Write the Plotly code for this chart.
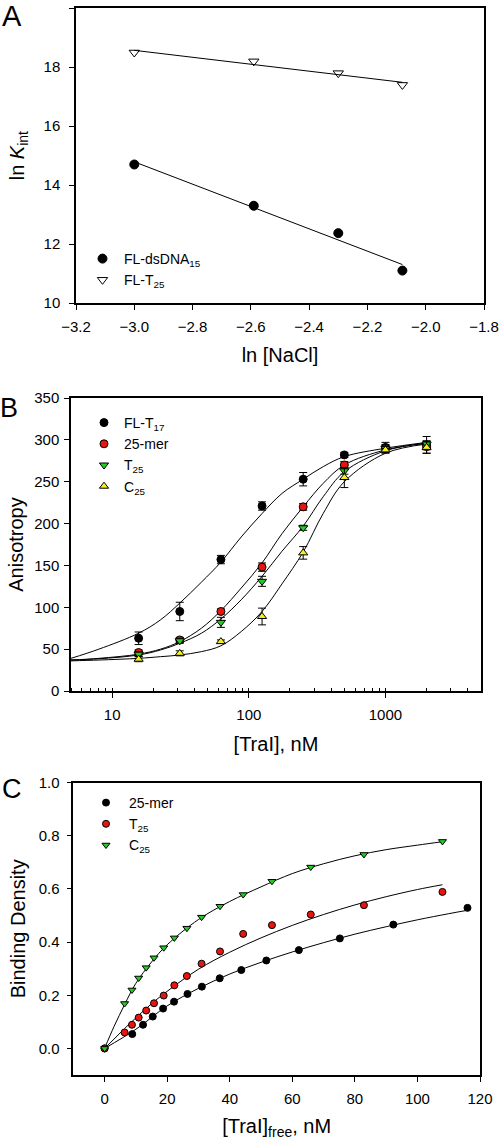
import numpy as np
import plotly.graph_objects as go

# ---------------- Panel A data ----------------
ln_nacl = [-3.0, -2.59, -2.30, -2.08]
lnk_dsdna15 = [14.7, 13.3, 12.37, 11.1]
lnk_t25 = [18.5, 18.2, 17.8, 17.4]

# ---------------- Panel B data ----------------
tral_nm = [15.625, 31.25, 62.5, 125, 250, 500, 1000, 2000]
aniso_flt17 = [63, 95, 157, 221, 253, 282, 291, 294]
err_flt17 = [7.5, 11, 5, 5, 8, 3, 6, 10]
aniso_25mer = [46, 61, 95, 148, 220, 270, 290, 292]
err_25mer = [3, 3, 3, 5, 4, 4, 4, 4]
aniso_t25 = [44, 60, 82, 131, 195, 263, 290, 295]
err_t25 = [3, 3, 6, 6, 3, 4, 4, 4]
aniso_c25 = [38, 45, 59, 89, 165, 255, 288, 291]
err_c25 = [3, 3, 2, 10, 7.5, 12, 4, 7]

# fitted curves
fit_b_x = [5, 8, 15.6, 22.6, 31.25, 45, 62.5, 88, 125, 175, 250, 350, 500, 1000, 2000]
fit_b_flt17 = [39, 50, 69, 85, 105, 130, 154, 184, 212, 236, 253, 268, 280, 290, 297]
fit_b_25mer = [37, 39, 44, 50, 59, 75, 96, 123, 153, 188, 220, 248, 270, 288, 296]
fit_b_t25 = [37, 38.5, 43, 49, 57, 69, 86, 109, 137, 167, 197, 232, 262, 287, 296]
fit_b_c25 = [36, 37, 39, 41, 43, 47, 54, 71, 95, 128, 166, 212, 250, 284, 295]

# ---------------- Panel C data ----------------
free_25mer = [0, 8.85, 12.3, 15.4, 18.7, 22.2, 26.5, 31.1, 36.8, 43.7, 51.7, 62.1, 75.2, 92.3, 116]
dens_25mer = [0, 0.054, 0.089, 0.12, 0.15, 0.176, 0.205, 0.2325, 0.264, 0.295, 0.331, 0.37, 0.414, 0.466, 0.529]
free_t25 = [0, 6.4, 8.75, 10.9, 13.3, 15.8, 18.9, 22.3, 26.3, 31.0, 36.9, 44.3, 53.5, 65.9, 82.9, 108]
dens_t25 = [0, 0.06, 0.089, 0.116, 0.1425, 0.17, 0.199, 0.2375, 0.2725, 0.319, 0.365, 0.431, 0.464, 0.504, 0.539, 0.589]
free_c25 = [0, 6.4, 8.75, 10.9, 13.3, 15.8, 18.9, 22.3, 26.3, 31.0, 36.9, 44.3, 53.5, 65.9, 82.9, 108]
dens_c25 = [0, 0.169, 0.22, 0.265, 0.304, 0.341, 0.379, 0.416, 0.4525, 0.494, 0.535, 0.579, 0.629, 0.6825, 0.73, 0.779]

fit_c_x_25mer = [0, 10, 20, 30, 40, 50, 60, 70, 80, 90, 100, 110, 116]
fit_c_25mer = [0, 0.072, 0.16, 0.226, 0.28, 0.324, 0.363, 0.398, 0.43, 0.458, 0.484, 0.507, 0.52]
fit_c_x = [0, 3, 6.4, 10, 15, 20, 30, 40, 50, 60, 70, 80, 90, 100, 108]
fit_c_t25 = [0, 0.035, 0.075, 0.115, 0.168, 0.215, 0.298, 0.362, 0.416, 0.463, 0.504, 0.54, 0.571, 0.598, 0.616]
fit_c_c25 = [0, 0.082, 0.165, 0.245, 0.325, 0.39, 0.485, 0.553, 0.608, 0.658, 0.695, 0.725, 0.748, 0.765, 0.778]

W, H = 500, 1140
FONT = "Arial, Liberation Sans, sans-serif"


def fx(p):
    return p / W


def fy(p):
    return 1 - p / H


fig = go.Figure()

# ---- Panel A ----
for yv, sym, name in [(lnk_dsdna15, "circle", "FL-dsDNA<sub>15</sub>"),
                      (lnk_t25, "triangle-down-open", "FL-T<sub>25</sub>")]:
    c = np.polyfit(ln_nacl, yv, 1)
    xs = np.array([min(ln_nacl), max(ln_nacl)])
    fig.add_trace(go.Scatter(x=xs, y=np.polyval(c, xs), mode="lines",
                             line=dict(color="black", width=1), showlegend=False,
                             xaxis="x", yaxis="y", hoverinfo="skip"))
    fig.add_trace(go.Scatter(x=ln_nacl, y=yv, mode="markers", name=name,
                             marker=dict(symbol=sym, size=9,
                                         color="black", line=dict(color="black", width=1)),
                             xaxis="x", yaxis="y", legend="legend"))

# ---- Panel B ----
b_sets = [
    (aniso_flt17, err_flt17, fit_b_flt17, "circle", "black", "FL-T<sub>17</sub>"),
    (aniso_25mer, err_25mer, fit_b_25mer, "circle", "#e8150f", "25-mer"),
    (aniso_t25, err_t25, fit_b_t25, "triangle-down", "#22cc22", "T<sub>25</sub>"),
    (aniso_c25, err_c25, fit_b_c25, "triangle-up", "#f5f01e", "C<sub>25</sub>"),
]
for yv, ev, fv, sym, col, name in b_sets:
    fig.add_trace(go.Scatter(x=fit_b_x, y=fv, mode="lines", line_shape="spline",
                             line=dict(color="black", width=1), showlegend=False,
                             xaxis="x2", yaxis="y2", hoverinfo="skip"))
for yv, ev, fv, sym, col, name in b_sets:
    fig.add_trace(go.Scatter(x=tral_nm, y=yv, mode="markers", name=name,
                             error_y=dict(type="data", array=ev, color="black",
                                          thickness=1, width=4),
                             marker=dict(symbol=sym, size=8, color=col,
                                         line=dict(color="black", width=1)),
                             xaxis="x2", yaxis="y2", legend="legend2"))

# ---- Panel C ----
for fxv, fv in [(fit_c_x_25mer, fit_c_25mer), (fit_c_x, fit_c_t25), (fit_c_x, fit_c_c25)]:
    fig.add_trace(go.Scatter(x=fxv, y=fv, mode="lines", line_shape="spline",
                             line=dict(color="black", width=1), showlegend=False,
                             xaxis="x3", yaxis="y3", hoverinfo="skip"))
for xv, yv, sym, col, name in [
    (free_25mer, dens_25mer, "circle", "black", "25-mer"),
    (free_t25, dens_t25, "circle", "#e8150f", "T<sub>25</sub>"),
    (free_c25, dens_c25, "triangle-down", "#22cc22", "C<sub>25</sub>"),
]:
    fig.add_trace(go.Scatter(x=xv, y=yv, mode="markers", name=name,
                             marker=dict(symbol=sym, size=7, color=col,
                                         line=dict(color="black", width=1)),
                             xaxis="x3", yaxis="y3", legend="legend3"))

axis_common = dict(showline=True, linecolor="black", linewidth=1.5, mirror=True,
                   ticks="outside", ticklen=5, tickwidth=1, tickcolor="black",
                   showgrid=False, zeroline=False, automargin=False,
                   tickfont=dict(family=FONT, size=15, color="black"),
                   title_font=dict(family=FONT, size=20, color="black"))

fig.update_layout(
    width=W, height=H, margin=dict(l=0, r=0, t=0, b=0, autoexpand=False),
    paper_bgcolor="white", plot_bgcolor="white",
    font=dict(family=FONT, color="black"),
    xaxis=dict(axis_common, domain=[fx(76), fx(484)], anchor="y", range=[-3.2, -1.8],
               dtick=0.2, tickformat=".1f", title=dict(text="ln [NaCl]", standoff=14),
               ticklabelstandoff=4),
    yaxis=dict(axis_common, domain=[fy(303), fy(8.3)], anchor="x", range=[10, 20],
               dtick=2, title=dict(text="ln <i>K</i><sub>int</sub>", standoff=14),
               ticklabelstandoff=6),
    xaxis2=dict(axis_common, domain=[fx(71), fx(481)], anchor="y2", type="log",
                range=[np.log10(5), np.log10(5000)], tickvals=[10, 100, 1000],
                ticktext=["10", "100", "1000"],
                minor=dict(ticks="inside", ticklen=3, tickcolor="black", dtick="D1",
                           showgrid=False),
                title=dict(text="[TraI], nM", standoff=15), ticklabelstandoff=4),
    yaxis2=dict(axis_common, domain=[fy(691), fy(398)], anchor="x2", range=[0, 350],
                dtick=50, title=dict(text="Anisotropy", standoff=5),
                ticklabelstandoff=2),
    xaxis3=dict(axis_common, domain=[fx(73.3), fx(480)], anchor="y3", range=[-10, 120],
                tickvals=[0, 20, 40, 60, 80, 100, 120],
                title=dict(text="[TraI]<sub>free</sub>, nM", standoff=17),
                ticklabelstandoff=4),
    yaxis3=dict(axis_common, domain=[fy(1075), fy(782.7)], anchor="x3", range=[-0.1, 1.0],
                tickvals=[0, 0.2, 0.4, 0.6, 0.8, 1.0], tickformat=".1f",
                title=dict(text="Binding Density", standoff=8), ticklabelstandoff=4),
    legend=dict(x=fx(81), y=fy(243), xanchor="left", yanchor="top",
                bgcolor="rgba(0,0,0,0)", font=dict(family=FONT, size=14),
                tracegroupgap=0, itemwidth=33),
    legend2=dict(x=fx(84), y=fy(407), xanchor="left", yanchor="top",
                 bgcolor="rgba(0,0,0,0)", font=dict(family=FONT, size=14),
                 tracegroupgap=0),
    legend3=dict(x=fx(83), y=fy(787), xanchor="left", yanchor="top",
                 bgcolor="rgba(0,0,0,0)", font=dict(family=FONT, size=14),
                 tracegroupgap=0, itemwidth=36),
    annotations=[
        dict(text="A", x=fx(12), y=fy(16), xref="paper", yref="paper", showarrow=False,
             xanchor="center", yanchor="middle",
             font=dict(family=FONT, size=29, color="black")),
        dict(text="B", x=fx(9), y=fy(408), xref="paper", yref="paper", showarrow=False,
             xanchor="center", yanchor="middle",
             font=dict(family=FONT, size=27, color="black")),
        dict(text="C", x=fx(12), y=fy(789), xref="paper", yref="paper", showarrow=False,
             xanchor="center", yanchor="middle",
             font=dict(family=FONT, size=27, color="black")),
    ],
)

fig.write_html("out.html", config={"displayModeBar": False},
               post_script="document.body.style.margin='0px';")
